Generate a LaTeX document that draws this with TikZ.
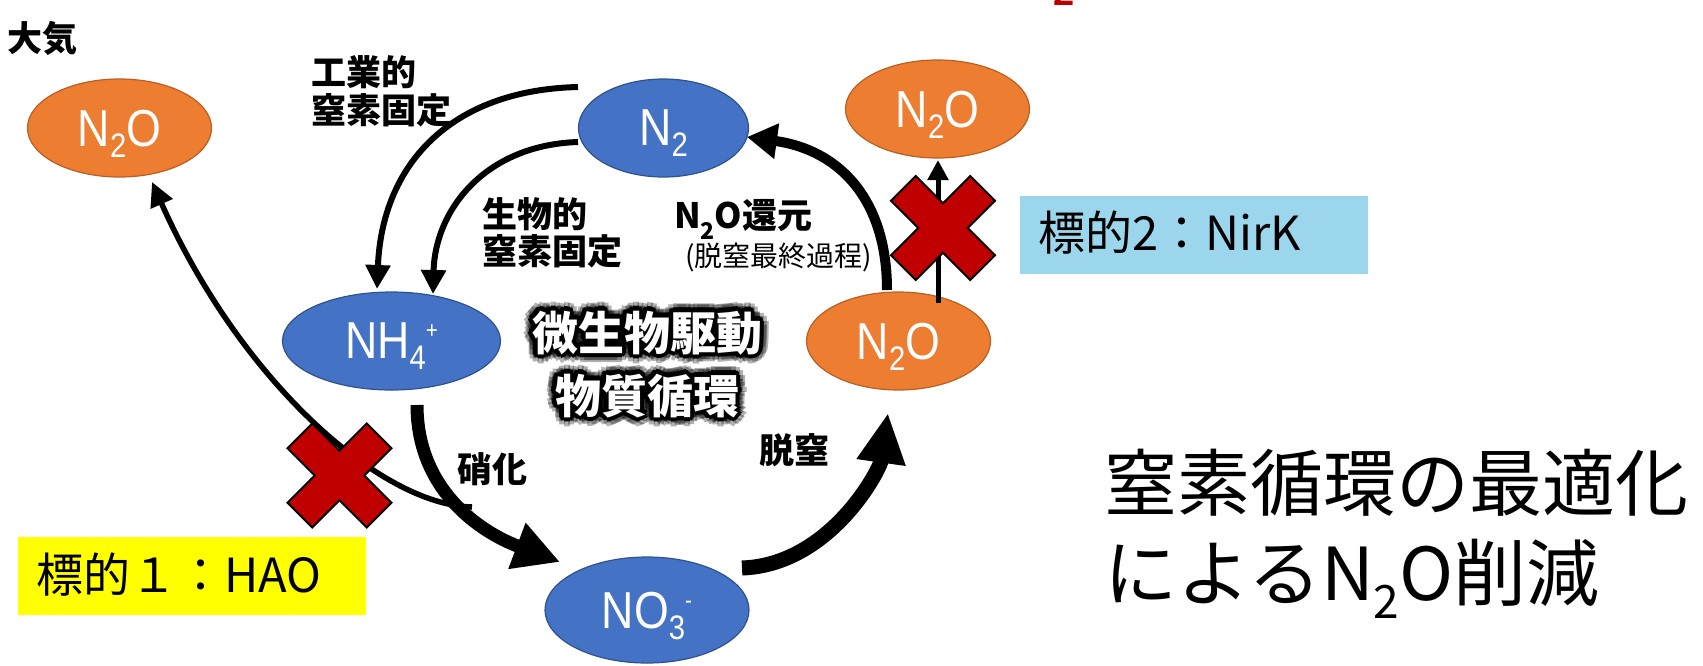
\documentclass[tikz,border=0pt]{standalone}
\usepackage{fontspec}
\setmainfont{Noto Sans CJK JP}
\newfontfamily\latinlab[FakeStretch=0.86]{Liberation Sans}
\newfontfamily\latinbold{Liberation Sans}
\usetikzlibrary{arrows.meta,shapes.geometric,calc}

\definecolor{ebl}{RGB}{68,114,196}
\definecolor{eblb}{RGB}{47,82,143}
\definecolor{eor}{RGB}{237,125,49}
\definecolor{eorb}{RGB}{185,95,35}
\definecolor{xred}{RGB}{192,0,0}
\definecolor{lblue}{RGB}{156,214,236}
\definecolor{yel}{RGB}{255,255,0}

\newcommand\lsub[1]{\smash{\raisebox{-11pt}{\fontsize{34}{34}\selectfont #1}}}
\newcommand\lsup[1]{\smash{\raisebox{20pt}{\fontsize{24}{24}\selectfont #1}}}

\begin{document}
\begin{tikzpicture}[x=1pt,y=-1pt,
  elbase/.style={ellipse, inner sep=0pt, line width=1.2pt, text=white,
     font=\latinlab\fontsize{52}{52}\selectfont, text depth=0pt},
  bluee/.style={elbase, draw=eblb, fill=ebl},
  orae/.style={elbase, draw=eorb, fill=eor},
  bold35/.style={inner sep=0pt, font=\bfseries\fontsize{35}{38}\selectfont},
  bold34/.style={inner sep=0pt, font=\bfseries\fontsize{35}{38}\selectfont},
  small28/.style={inner sep=0pt, font=\fontsize{28}{30}\selectfont},
  target/.style={rectangle, inner sep=0pt, minimum width=348pt, minimum height=78pt},
  targettext/.style={inner sep=0pt, font=\fontsize{47}{50}\selectfont},
  halo/.style={inner sep=0pt, font=\bfseries\fontsize{46}{50}\selectfont, text=black, anchor=base},
  cyc/.style={inner sep=0pt, font=\bfseries\fontsize{46}{50}\selectfont, text=white, anchor=base},
  big/.style={inner sep=0pt, font=\fontsize{73}{90}\selectfont, anchor=base west},
  arr/.style={draw=black},
  redx/.pic={\draw[fill=xred, draw=black, line width=2pt, line join=miter]
     (-27.2,52) -- (0,24.75) -- (27.2,52) -- (52,27.2) -- (24.75,0) -- (52,-27.2)
     -- (27.2,-52) -- (0,-24.75) -- (-27.2,-52) -- (-52,-27.2) -- (-24.75,0)
     -- (-52,27.2) -- cycle;}
]
\useasboundingbox (0,0) rectangle (1703,665);

% ellipses
\node[orae, minimum width=184pt, minimum height=98pt] (atmN2O) at (119.5,128) {N\lsub{2}O};
\node[bluee, minimum width=170pt, minimum height=98pt] (N2) at (663.5,128) {N\lsub{2}};
\node[orae, minimum width=184pt, minimum height=98pt] (topN2O) at (937.5,109) {N\lsub{2}O};
\node[bluee, minimum width=218pt, minimum height=98pt] (NH4) at (391.5,341) {NH\lsub{4}\lsup{+}};
\node[orae, minimum width=184pt, minimum height=98pt] (botN2O) at (898.5,341) {N\lsub{2}O};
\node[bluee, minimum width=204pt, minimum height=106pt] (NO3) at (647,610) {NO\lsub{3}\lsup{-}};

% connectors
\draw[arr, line width=6pt, -{Triangle[length=24pt,width=24pt]}]
  ($(N2.center)+(-85.5,-41)$) .. controls (450,90) and (382,165) .. ($(NH4.center)+(-14.5,-52)$);
\draw[arr, line width=6pt, -{Triangle[length=24pt,width=24pt]}]
  ($(N2.center)+(-85.5,14)$) .. controls (485,145) and (435,210) .. ($(NH4.center)+(41.5,-47)$);
\draw[arr, line width=5.5pt, -{Triangle[length=24pt,width=23pt]}]
  ($(NH4.center)+(80.5,166)$) .. controls (380,505) and (240,380) .. ($(atmN2O.center)+(32.5,54)$);
\draw[arr, line width=13pt, -{Triangle[length=46pt,width=46pt]}]
  ($(NH4.center)+(25.5,64)$) .. controls (417,490) and (480,532) .. ($(NO3.center)+(-87,-48)$);
\draw[arr, line width=15pt, -{Triangle[length=50pt,width=46pt]}]
  ($(NO3.center)+(95,-42)$) .. controls (830,565) and (880,470) .. ($(botN2O.center)+(-10.5,72)$);
\draw[arr, line width=10pt, -{Triangle[length=30pt,width=34pt]}]
  ($(botN2O.center)+(-11.5,-51)$) .. controls (887,200) and (840,150) .. ($(N2.center)+(83.5,9)$);
\draw[arr, line width=5pt, -{Triangle[length=20pt,width=20pt]}]
  ($(botN2O.center)+(39.5,-38)$) -- ($(topN2O.center)+(0.5,51)$);

% crosses
\pic (x1) at (339.5,475.5) {redx};
\pic (x2) at (943,228) {redx};

% labels
\node[bold35, anchor=base west] (taiki) at (7,51) {大気};
\node[bold35, anchor=base west] (ind1) at (311,85) {工業的};
\node[bold35, anchor=base west] (ind2) at (311,123) {窒素固定};
\node[bold35, anchor=base west] (bio1) at (482,227) {生物的};
\node[bold35, anchor=base west] (bio2) at (482,264) {窒素固定};
\node[bold34, anchor=base west] (red1) at (674,228) {N\smash{\raisebox{-11pt}{\fontsize{23}{23}\selectfont 2}}O還元};
\node[small28, anchor=base west] (red2) at (685,266) {(脱窒最終過程)};
\node[bold34, anchor=base] (nitr) at (492.5,482) {硝化};
\node[bold34, anchor=base] (denit) at (794,463) {脱窒};

% glowing centre text
\foreach \ang in {0,30,...,330} {
  \node[halo, opacity=0.3] at ($(647,350)+(\ang:9)$) {微生物駆動};
  \node[halo, opacity=0.3] at ($(647,413)+(\ang:9)$) {物質循環};
  \node[halo] at ($(647,350)+(\ang:4.5)$) {微生物駆動};
  \node[halo] at ($(647,413)+(\ang:4.5)$) {物質循環};
}
\node[cyc] (cyc1) at (647,350) {微生物駆動};
\node[cyc] (cyc2) at (647,413) {物質循環};

% target boxes
\node[target, fill=yel] (t1box) at (192,576) {};
\node[targettext, anchor=base west] (t1) at (36,592) {標的１：HAO};
\node[target, fill=lblue] (t2box) at (1194,234.5) {};
\node[targettext, anchor=base west] (t2) at (1038,250) {標的2：NirK};

% big text
\node[big] (big1) at (1104,510) {窒素循環の最適化};
\node[big] (big2) at (1104,600) {によるN\raisebox{-18pt}{\fontsize{46}{46}\selectfont 2}O削減};

% cut-off red glyph at top edge
\node[inner sep=0pt, anchor=base, text=xred, font=\latinbold\bfseries\fontsize{38}{38}\selectfont] (topred) at (1064.5,5) {2};
\end{tikzpicture}
\end{document}
